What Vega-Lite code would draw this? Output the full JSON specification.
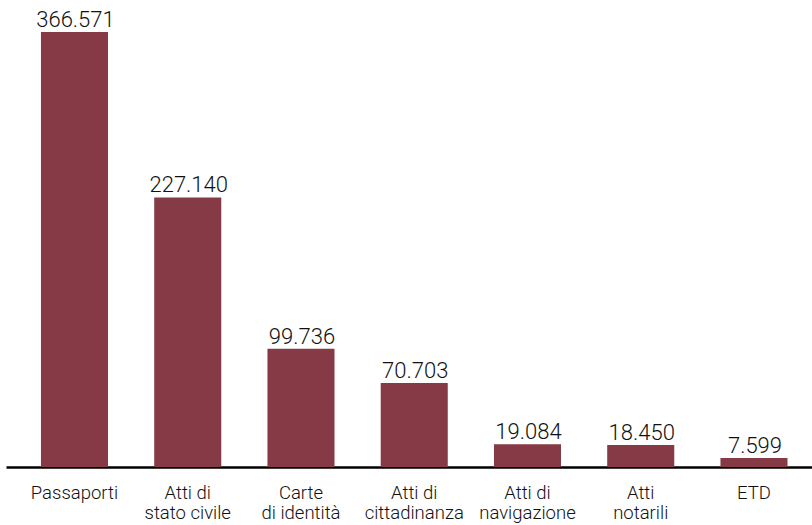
{
  "$schema": "https://vega.github.io/schema/vega-lite/v6.json",
  "autosize": {"type": "none"},
  "width": 806,
  "height": 467,
  "padding": {"left": 6, "top": 0, "right": 0, "bottom": 58},
  "background": "white",
  "config": {
    "view": {"stroke": null},
    "locale": {"number": {"decimal": ",", "thousands": ".", "grouping": [3], "currency": ["€", ""]}},
    "font": "Roboto"
  },
  "data": {
    "values": [
      {"categoria": "Passaporti", "valore": 366571},
      {"categoria": "Atti di|stato civile", "valore": 227140},
      {"categoria": "Carte|di identità", "valore": 99736},
      {"categoria": "Atti di|cittadinanza", "valore": 70703},
      {"categoria": "Atti di|navigazione", "valore": 19084},
      {"categoria": "Atti|notarili", "valore": 18450},
      {"categoria": "ETD", "valore": 7599}
    ]
  },
  "encoding": {
    "x": {
      "field": "categoria",
      "type": "nominal",
      "sort": null,
      "scale": {"paddingInner": 0.408, "paddingOuter": 0.2625, "align": 0.588},
      "axis": {
        "title": null,
        "labelAngle": 0,
        "labelExpr": "split(datum.label, '|')",
        "labelFont": "Roboto",
        "labelFontSize": 18.5,
        "labelFontWeight": 300,
        "labelColor": "#111111",
        "labelBaseline": "top",
        "labelPadding": 16,
        "labelLineHeight": 20,
        "ticks": false,
        "domainColor": "#000000",
        "domainWidth": 2.5,
        "domainCap": "butt",
        "grid": false
      }
    },
    "y": {
      "field": "valore",
      "type": "quantitative",
      "scale": {"domain": [0, 393539], "nice": false},
      "axis": null
    }
  },
  "layer": [
    {"mark": {"type": "bar", "color": "#853a46"}},
    {
      "mark": {"type": "text", "baseline": "alphabetic", "dy": -5, "dx": 1, "fontSize": 22, "fontWeight": 300, "font": "Roboto", "color": "#111111"},
      "encoding": {"text": {"field": "valore", "type": "quantitative", "format": ",d"}}
    }
  ]
}
